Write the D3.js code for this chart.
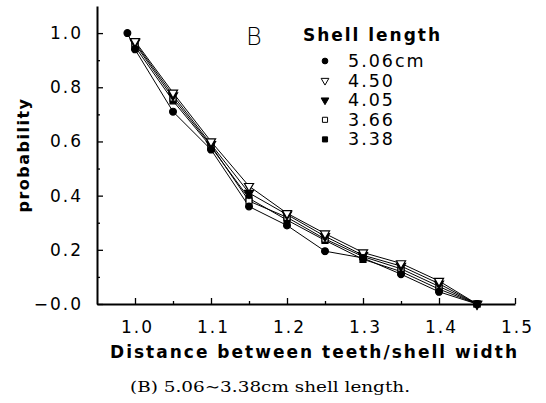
<!DOCTYPE html>
<html>
<head>
<meta charset="utf-8">
<script src="https://cdn.jsdelivr.net/npm/d3@7"></script>
<style>
  body { margin: 0; background: #fff; }
  text { font-family: "DejaVu Sans", sans-serif; fill: #000; }
  .tick text { font-size: 17px; letter-spacing: 2px; }
</style>
</head>
<body>
<div id="chart"></div>
<script>
// data
const distances = [1.0, 1.05, 1.1, 1.15, 1.2, 1.25, 1.3, 1.35, 1.4, 1.45];
const distances506 = [0.99, 1.0, 1.05, 1.1, 1.15, 1.2, 1.25, 1.3, 1.35, 1.4, 1.45];
const shellLengths = ["5.06cm", "4.50", "4.05", "3.66", "3.38"];
const prob506 = [1.0, 0.94, 0.71, 0.57, 0.36, 0.29, 0.195, 0.17, 0.11, 0.045, 0.0];
const prob450 = [0.97, 0.78, 0.60, 0.435, 0.335, 0.26, 0.19, 0.15, 0.085, 0.0];
const prob405 = [0.965, 0.77, 0.59, 0.41, 0.33, 0.25, 0.18, 0.14, 0.075, 0.0];
const prob366 = [0.96, 0.76, 0.585, 0.38, 0.32, 0.24, 0.175, 0.13, 0.065, 0.0];
const prob338 = [0.95, 0.75, 0.58, 0.39, 0.31, 0.235, 0.165, 0.12, 0.055, 0.0];
const xTicks = [1.0, 1.1, 1.2, 1.3, 1.4, 1.5];
const yTicks = [0, 0.2, 0.4, 0.6, 0.8, 1.0];
const yTickLabels = ["\u22120.0", "0.2", "0.4", "0.6", "0.8", "1.0"];

const width = 546;
const height = 403;

const svg = d3.select("#chart")
    .append("svg")
    .attr("width", width)
    .attr("height", height);

const xScale = d3.scaleLinear()
    .domain([0.95, 1.5])
    .range([97, 515]);

const yScale = d3.scaleLinear()
    .domain([0, 1.1])
    .range([304, 6]);

// minor ticks
svg.append("g")
    .attr("transform", "translate(0,304)")
    .call(d3.axisBottom(xScale).tickValues(d3.range(1.05, 1.5, 0.1)).tickSize(-3).tickFormat(""))
    .call(g => g.select(".domain").remove());

svg.append("g")
    .attr("transform", "translate(97,0)")
    .call(d3.axisLeft(yScale).tickValues(d3.range(0.1, 1.05, 0.2)).tickSize(-3).tickFormat(""))
    .call(g => g.select(".domain").remove());

// main axes
const xAxis = svg.append("g")
    .attr("transform", "translate(0,304)")
    .call(d3.axisBottom(xScale).tickValues(xTicks).tickSize(-6).tickSizeOuter(0).tickPadding(15)
        .tickFormat(d3.format(".1f")));

const yAxis = svg.append("g")
    .attr("transform", "translate(97,0)")
    .call(d3.axisLeft(yScale).tickValues(yTicks).tickSize(-6).tickSizeOuter(0).tickPadding(14)
        .tickFormat((d, i) => yTickLabels[i]));

svg.selectAll(".domain").attr("stroke-width", 2);
svg.selectAll(".tick line").attr("stroke-width", 1.3);
xAxis.selectAll(".tick text").attr("dy", "0.85em").attr("dx", "2px");

// series
const series = [
    {name: shellLengths[0], xs: distances506, ys: prob506, shape: d3.symbolCircle, fill: "#000", rot: 0},
    {name: shellLengths[1], xs: distances, ys: prob450, shape: d3.symbolTriangle, fill: "#fff", rot: 180},
    {name: shellLengths[2], xs: distances, ys: prob405, shape: d3.symbolTriangle, fill: "#000", rot: 180},
    {name: shellLengths[3], xs: distances, ys: prob366, shape: d3.symbolSquare, fill: "#fff", rot: 0},
    {name: shellLengths[4], xs: distances, ys: prob338, shape: d3.symbolSquare, fill: "#000", rot: 0}
];

const line = d3.line()
    .x(d => xScale(d[0]))
    .y(d => yScale(d[1]));

series.forEach(s => {
    const pts = s.xs.map((x, i) => [x, s.ys[i]]);
    svg.append("path")
        .datum(pts)
        .attr("d", line)
        .attr("fill", "none")
        .attr("stroke", "#000")
        .attr("stroke-width", 1);
});

// markers, largest shell drawn last so it sits on top
series.slice().reverse().forEach(s => {
    const pts = s.xs.map((x, i) => [x, s.ys[i]]);
    svg.selectAll(null)
        .data(pts)
        .enter()
        .append("path")
        .attr("d", d3.symbol().type(s.shape).size(36))
        .attr("transform", d => `translate(${xScale(d[0])},${yScale(d[1])}) rotate(${s.rot})`)
        .attr("fill", s.fill)
        .attr("stroke", "#000")
        .attr("stroke-width", 1.2);
});

// legend
svg.append("text")
    .attr("x", 246)
    .attr("y", 45)
    .style("font-size", "24px")
    .style("font-weight", "300")
    .text("B");

svg.append("text")
    .attr("x", 303)
    .attr("y", 41)
    .style("font-size", "17px")
    .style("font-weight", "bold")
    .attr("textLength", 137)
    .attr("lengthAdjust", "spacing")
    .text("Shell length");

const legend = svg.selectAll(".legend")
    .data(series)
    .enter()
    .append("g")
    .attr("class", "legend")
    .attr("transform", (d, i) => `translate(0,${67 + i * 19.6})`);

legend.append("path")
    .attr("d", d => d3.symbol().type(d.shape).size(26)())
    .attr("transform", d => `translate(325,-6) rotate(${d.rot})`)
    .attr("fill", d => d.fill)
    .attr("stroke", "#000")
    .attr("stroke-width", 1);

legend.append("text")
    .attr("x", 348)
    .attr("y", 0)
    .style("font-size", "17.5px")
    .style("letter-spacing", "2px")
    .text(d => d.name);

// axis titles
svg.append("text")
    .attr("x", 110)
    .attr("y", 358)
    .style("font-size", "17px")
    .style("font-weight", "bold")
    .attr("textLength", 407)
    .attr("lengthAdjust", "spacing")
    .text("Distance between teeth/shell width");

svg.append("text")
    .attr("transform", "translate(29,155) rotate(-90)")
    .attr("text-anchor", "middle")
    .style("font-size", "16px")
    .style("font-weight", "bold")
    .style("letter-spacing", "1.5px")
    .text("probability");

// caption
svg.append("text")
    .attr("x", 130)
    .attr("y", 392)
    .style("font-family", "'DejaVu Serif', 'Liberation Serif', serif")
    .style("font-size", "15px")
    .attr("textLength", 280)
    .attr("lengthAdjust", "spacingAndGlyphs")
    .text("(B) 5.06\u223c3.38cm shell length.");
</script>
</body>
</html>
